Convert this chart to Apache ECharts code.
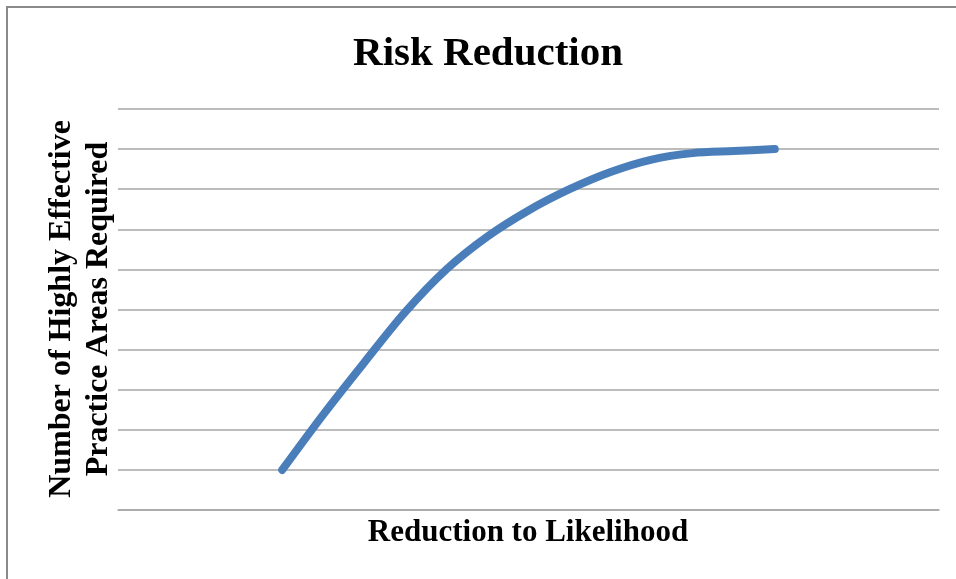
<!DOCTYPE html>
<html>
<head>
<meta charset="utf-8">
<title>Risk Reduction</title>
<script src="https://cdn.jsdelivr.net/npm/echarts@6/dist/echarts.min.js"></script>
<style>
  html, body { margin: 0; padding: 0; background: #ffffff; }
  #chart { width: 956px; height: 579px; }
</style>
</head>
<body>
<div id="chart"></div>
<script>
// Reduction to likelihood (x) against practice areas required (y)
const xValues = [2, 2.5, 3, 3.5, 4, 4.5, 5, 5.5, 6, 6.5, 7, 7.5, 8];
const yValues = [1, 2.38, 3.68, 4.94, 6.0, 6.82, 7.47, 8.0, 8.43, 8.74, 8.9, 8.95, 9.0];

const chartTitle = 'Risk Reduction';
const xAxisTitle = 'Reduction to Likelihood';
const yAxisTitle = ['Number of Highly Effective', 'Practice Areas Required'];

const serif = '"Liberation Serif", "Times New Roman", serif';
const gridGrey = '#a6a6a6';

const chart = echarts.init(document.getElementById('chart'), null, { renderer: 'canvas' });

chart.setOption({
  backgroundColor: '#ffffff',
  animation: false,
  grid: { left: 118, right: 17, top: 109, bottom: 69, containLabel: false },
  xAxis: {
    type: 'value',
    min: 0,
    max: 10,
    interval: 1,
    axisLine: { show: true, lineStyle: { color: gridGrey, width: 1.5 } },
    axisTick: { show: false },
    axisLabel: { show: false },
    splitLine: { show: false }
  },
  yAxis: {
    type: 'value',
    min: 0,
    max: 10,
    interval: 1,
    axisLine: { show: false },
    axisTick: { show: false },
    axisLabel: { show: false },
    splitLine: { show: true, lineStyle: { color: gridGrey, width: 1.5 } }
  },
  series: [{
    type: 'line',
    data: xValues.map((x, i) => [x, yValues[i]]),
    smooth: 0.3,
    showSymbol: false,
    lineStyle: { color: '#4a7ebb', width: 8, cap: 'round', join: 'round' }
  }],
  graphic: [
    {
      type: 'rect',
      shape: { x: 7, y: 7, width: 960, height: 600 },
      style: { fill: 'none', stroke: '#8a8a8a', lineWidth: 2 },
      silent: true
    },
    {
      type: 'text',
      x: 488, y: 54,
      style: {
        text: chartTitle,
        font: 'bold 41px ' + serif,
        fill: '#000000',
        align: 'center',
        verticalAlign: 'middle'
      }
    },
    {
      type: 'text',
      x: 528, y: 533,
      style: {
        text: xAxisTitle,
        font: 'bold 31px ' + serif,
        fill: '#000000',
        align: 'center',
        verticalAlign: 'middle'
      }
    },
    {
      type: 'text',
      x: 80, y: 309,
      rotation: Math.PI / 2,
      style: {
        text: yAxisTitle.join('\n'),
        font: 'bold 32px ' + serif,
        lineHeight: 37,
        fill: '#000000',
        align: 'center',
        verticalAlign: 'middle'
      }
    }
  ]
});
</script>
</body>
</html>
